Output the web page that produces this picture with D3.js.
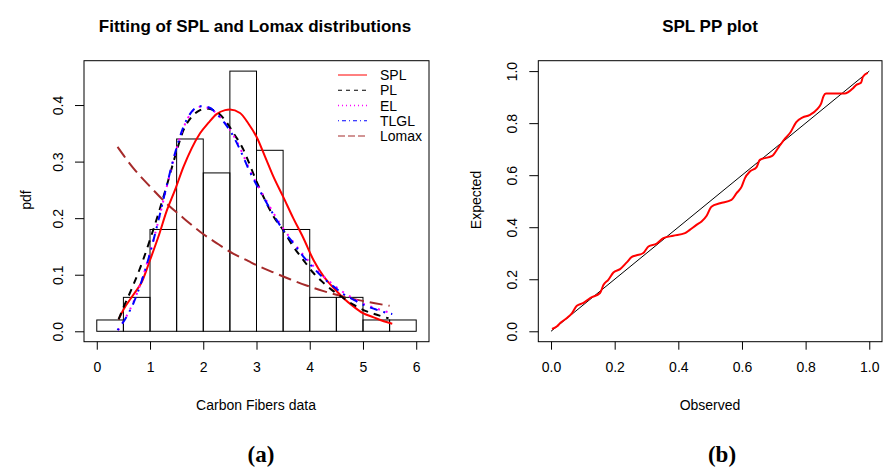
<!DOCTYPE html>
<html>
<head>
<meta charset="utf-8">
<script src="https://cdn.jsdelivr.net/npm/d3@7"></script>
<style>
  body { margin: 0; background: #fff; }
  svg { display: block; font-family: "Liberation Sans", Arial, sans-serif; }
</style>
</head>
<body>
<svg id="chart" width="883" height="471"></svg>
<script>
// Histogram of the carbon fibers data (density scale)
let histBreaks = [0, 0.5, 1, 1.5, 2, 2.5, 3, 3.5, 4, 4.5, 5, 5.5, 6];
let histDensity = [0.02, 0.06, 0.18, 0.34, 0.28, 0.46, 0.32, 0.18, 0.06, 0.06, 0.02, 0.02];

// Fitted densities
let splX = [0.41, 0.5, 0.69, 0.85, 1.0, 1.16, 1.31, 1.47, 1.63, 1.78, 1.94, 2.1, 2.25, 2.41, 2.5, 2.69, 2.85, 3.0, 3.16, 3.32, 3.5, 3.69, 3.88, 4.07, 4.26, 4.45, 4.63, 4.82, 5.0, 5.2, 5.39, 5.55];
let splY = [0.021, 0.038, 0.065, 0.088, 0.126, 0.168, 0.212, 0.250, 0.291, 0.323, 0.350, 0.369, 0.384, 0.391, 0.392, 0.386, 0.367, 0.344, 0.309, 0.273, 0.238, 0.200, 0.165, 0.126, 0.097, 0.0765, 0.059, 0.044, 0.032, 0.0247, 0.0177, 0.0135];

let plX = [0.41, 0.5, 0.6, 0.7, 0.85, 1.0, 1.16, 1.31, 1.47, 1.63, 1.78, 1.94, 2.06, 2.22, 2.41, 2.57, 2.75, 2.85, 3.0, 3.16, 3.32, 3.5, 3.69, 3.88, 4.07, 4.26, 4.45, 4.63, 4.82, 5.0, 5.2, 5.48];
let plY = [0.021, 0.042, 0.063, 0.085, 0.121, 0.162, 0.209, 0.256, 0.309, 0.356, 0.379, 0.391, 0.394, 0.390, 0.373, 0.350, 0.322, 0.300, 0.265, 0.232, 0.203, 0.179, 0.150, 0.126, 0.103, 0.0855, 0.0706, 0.059, 0.047, 0.038, 0.031, 0.023];

let elX = [0.40, 0.56, 0.69, 0.85, 1.0, 1.16, 1.31, 1.47, 1.63, 1.78, 1.94, 2.1, 2.25, 2.41, 2.57, 2.72, 2.85, 3.0, 3.16, 3.32, 3.5, 3.69, 3.88, 4.07, 4.26, 4.45, 4.63, 4.82, 5.0, 5.2, 5.39, 5.55];
let elY = [0.002, 0.027, 0.052, 0.092, 0.139, 0.196, 0.254, 0.313, 0.360, 0.387, 0.397, 0.395, 0.385, 0.368, 0.346, 0.318, 0.290, 0.262, 0.235, 0.209, 0.182, 0.158, 0.135, 0.115, 0.097, 0.082, 0.069, 0.058, 0.049, 0.042, 0.036, 0.032];

let tlglX = [0.39, 0.56, 0.69, 0.85, 1.0, 1.16, 1.31, 1.47, 1.63, 1.78, 1.94, 2.1, 2.25, 2.41, 2.57, 2.72, 2.85, 3.0, 3.16, 3.32, 3.5, 3.69, 3.88, 4.07, 4.26, 4.45, 4.63, 4.82, 5.0, 5.2, 5.39, 5.55];
let tlglY = [0.002, 0.026, 0.050, 0.091, 0.138, 0.197, 0.256, 0.315, 0.362, 0.388, 0.398, 0.396, 0.385, 0.367, 0.344, 0.315, 0.287, 0.259, 0.232, 0.206, 0.179, 0.156, 0.132, 0.112, 0.094, 0.079, 0.066, 0.056, 0.047, 0.040, 0.034, 0.0305];

let lomaxX = [0.39, 0.69, 1.0, 1.31, 1.63, 1.94, 2.25, 2.57, 2.85, 3.0, 3.32, 3.63, 3.94, 4.26, 4.57, 4.88, 5.2, 5.5];
let lomaxY = [0.326, 0.288, 0.256, 0.226, 0.200, 0.176, 0.156, 0.137, 0.124, 0.117, 0.104, 0.092, 0.081, 0.071, 0.063, 0.056, 0.050, 0.045];

// PP plot of the SPL fit
let ppObserved = [0.003, 0.019, 0.029, 0.05, 0.066, 0.081, 0.102, 0.123, 0.154, 0.165, 0.18, 0.196, 0.217, 0.238, 0.254, 0.269, 0.29, 0.306, 0.332, 0.353, 0.384, 0.421, 0.436, 0.457, 0.473, 0.489, 0.504, 0.531, 0.567, 0.583, 0.599, 0.609, 0.625, 0.646, 0.656, 0.695, 0.716, 0.737, 0.752, 0.77, 0.791, 0.812, 0.838, 0.849, 0.856, 0.864, 0.922, 0.948, 0.958, 0.974, 0.98, 0.995];
let ppExpected = [0.009, 0.019, 0.032, 0.051, 0.07, 0.098, 0.109, 0.128, 0.147, 0.179, 0.198, 0.226, 0.239, 0.265, 0.286, 0.292, 0.301, 0.326, 0.337, 0.358, 0.367, 0.377, 0.39, 0.409, 0.422, 0.444, 0.479, 0.492, 0.505, 0.531, 0.556, 0.588, 0.614, 0.631, 0.659, 0.674, 0.709, 0.743, 0.764, 0.803, 0.822, 0.831, 0.856, 0.876, 0.903, 0.914, 0.914, 0.933, 0.946, 0.955, 0.978, 0.993];

let seriesNames = ["SPL", "PL", "EL", "TLGL", "Lomax"];
let seriesColors = ["#ff0000", "#000000", "#ff00ff", "#0000ff", "#a52a2a"];
let seriesDash = [null, "7,6", "2,6", "2,6,8,6", "13,6"];
let legendDash = [null, "4,4", "1,3", "1,3,4,3", "7,3"];
let seriesData = [[splX, splY], [plX, plY], [elX, elY], [tlglX, tlglY], [lomaxX, lomaxY]];

let xTicksA = [0, 1, 2, 3, 4, 5, 6];
let yTicksA = [0, 0.1, 0.2, 0.3, 0.4];
let ticksB = [0, 0.2, 0.4, 0.6, 0.8, 1.0];

let svg = d3.select("#chart");
svg.append("rect").attr("width", 883).attr("height", 471).attr("fill", "#fff");

// ---------- panel (a) ----------
let xA = d3.scaleLinear().domain([-0.24, 6.24]).range([84, 429]);
let yA = d3.scaleLinear().domain([-0.0184, 0.4784]).range([341.7, 60.7]);

svg.append("g").selectAll("rect")
  .data(histDensity)
  .enter()
  .append("rect")
  .attr("x", (d, i) => xA(histBreaks[i]))
  .attr("width", (d, i) => xA(histBreaks[i + 1]) - xA(histBreaks[i]))
  .attr("y", d => yA(d))
  .attr("height", d => yA(0) - yA(d))
  .attr("fill", "none")
  .attr("stroke", "#000")
  .attr("stroke-width", 1);

let densLine = d3.line()
  .x(d => xA(d[0]))
  .y(d => yA(d[1]))
  .curve(d3.curveMonotoneX);

// Lomax first, then the rest on top
let drawOrder = [4, 0, 1, 2, 3];
drawOrder.forEach(k => {
  let pts = seriesData[k][0].map((v, i) => [v, seriesData[k][1][i]]);
  svg.append("path")
    .attr("d", densLine(pts))
    .attr("fill", "none")
    .attr("stroke", seriesColors[k])
    .attr("stroke-width", 2)
    .attr("stroke-dasharray", seriesDash[k]);
});

// box
svg.append("rect")
  .attr("x", 84).attr("y", 60.7)
  .attr("width", 429 - 84).attr("height", 341.7 - 60.7)
  .attr("fill", "none").attr("stroke", "#000");

// axes
let axA = svg.append("g")
  .attr("transform", "translate(0,341.7)")
  .call(d3.axisBottom(xA).tickValues(xTicksA).tickSize(8).tickPadding(12).tickFormat(d3.format("d")));
let ayA = svg.append("g")
  .attr("transform", "translate(84,0)")
  .call(d3.axisLeft(yA).tickValues(yTicksA).tickSize(9).tickFormat(d3.format(".1f")));

// legend (no frame)
let legend = svg.append("g");
seriesNames.forEach((name, i) => {
  let ly = 75 + i * 15.25;
  legend.append("line")
    .attr("x1", 338).attr("x2", 367)
    .attr("y1", ly).attr("y2", ly)
    .attr("stroke", seriesColors[i])
    .attr("stroke-width", i == 2 ? 1.4 : 1)
    .attr("stroke-dasharray", legendDash[i]);
  legend.append("text")
    .attr("x", 380).attr("y", ly + 5)
    .attr("font-size", "14px")
    .text(name);
});

svg.append("text")
  .attr("x", 255).attr("y", 32)
  .attr("text-anchor", "middle")
  .attr("font-size", "17px").attr("font-weight", "bold")
  .text("Fitting of SPL and Lomax distributions");
svg.append("text")
  .attr("x", 256).attr("y", 410)
  .attr("text-anchor", "middle")
  .attr("font-size", "14px")
  .text("Carbon Fibers data");
svg.append("text")
  .attr("transform", "translate(31,200) rotate(-90)")
  .attr("text-anchor", "middle")
  .attr("font-size", "14px")
  .text("pdf");
svg.append("text")
  .attr("x", 261).attr("y", 462)
  .attr("text-anchor", "middle")
  .attr("font-family", "'Liberation Serif', serif")
  .attr("font-weight", "bold")
  .attr("font-size", "23px")
  .text("(a)");

// ---------- panel (b) ----------
let xB = d3.scaleLinear().domain([-0.04, 1.04]).range([538.3, 882]);
let yB = d3.scaleLinear().domain([-0.04, 1.04]).range([341.7, 60.7]);

svg.append("line")
  .attr("x1", xB(0)).attr("y1", yB(0))
  .attr("x2", xB(1)).attr("y2", yB(1))
  .attr("stroke", "#000").attr("stroke-width", 1);

let ppLine = d3.line()
  .x(d => xB(d[0]))
  .y(d => yB(d[1]))
  .curve(d3.curveMonotoneX);
svg.append("path")
  .attr("d", ppLine(ppObserved.map((v, i) => [v, ppExpected[i]])))
  .attr("fill", "none")
  .attr("stroke", "#ff0000")
  .attr("stroke-width", 2);

svg.append("rect")
  .attr("x", 538.3).attr("y", 60.7)
  .attr("width", 882 - 538.3).attr("height", 341.7 - 60.7)
  .attr("fill", "none").attr("stroke", "#000");

let axB = svg.append("g")
  .attr("transform", "translate(0,341.7)")
  .call(d3.axisBottom(xB).tickValues(ticksB).tickSize(8).tickPadding(12).tickFormat(d3.format(".1f")));
let ayB = svg.append("g")
  .attr("transform", "translate(538.3,0)")
  .call(d3.axisLeft(yB).tickValues(ticksB).tickSize(9).tickFormat(d3.format(".1f")));

svg.append("text")
  .attr("x", 710).attr("y", 32)
  .attr("text-anchor", "middle")
  .attr("font-size", "17px").attr("font-weight", "bold")
  .text("SPL PP plot");
svg.append("text")
  .attr("x", 710).attr("y", 410)
  .attr("text-anchor", "middle")
  .attr("font-size", "14px")
  .text("Observed");
svg.append("text")
  .attr("transform", "translate(481,200) rotate(-90)")
  .attr("text-anchor", "middle")
  .attr("font-size", "14px")
  .text("Expected");
svg.append("text")
  .attr("x", 722).attr("y", 462)
  .attr("text-anchor", "middle")
  .attr("font-family", "'Liberation Serif', serif")
  .attr("font-weight", "bold")
  .attr("font-size", "23px")
  .text("(b)");

// axis styling: the box draws the axis line, labels like R
[axA, ayA, axB, ayB].forEach(g => {
  g.select(".domain").remove();
  g.selectAll("text").attr("font-size", "14px").attr("font-family", "'Liberation Sans', Arial, sans-serif").attr("fill", "#000");
  g.selectAll("line").attr("stroke", "#000");
});
// y tick labels rotated, as R draws them by default
[ayA, ayB].forEach(g => {
  g.selectAll(".tick text")
    .attr("x", null).attr("dy", null)
    .attr("text-anchor", "middle")
    .attr("transform", "translate(-21,0) rotate(-90)");
});
</script>
</body>
</html>
